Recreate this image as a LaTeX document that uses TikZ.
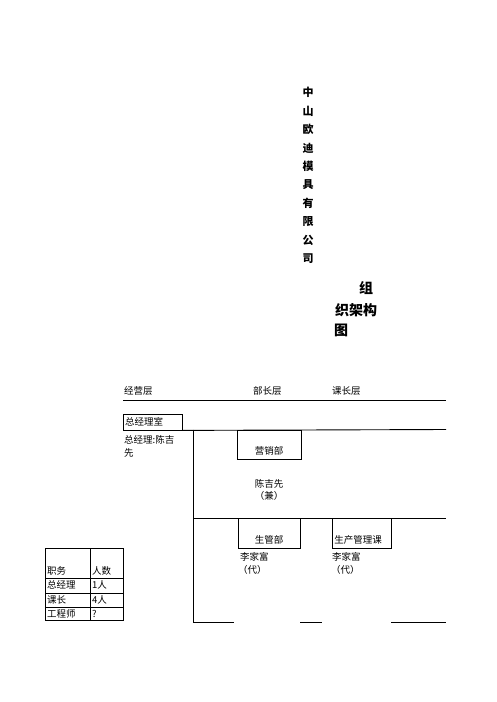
\documentclass[tikz,border=0pt]{standalone}
\usepackage{fontspec}
\setmainfont{Noto Sans CJK SC}
\begin{document}
\begin{tikzpicture}[x=1pt,y=-1pt,
  txt/.style={inner sep=0pt,font=\fontsize{9.5}{11}\selectfont},
  ltxt/.style={txt,anchor=west},
  ctxt/.style={txt,anchor=center},
  ttl/.style={inner sep=0pt,font=\fontsize{14}{16}\selectfont\bfseries},
  rule/.style={line width=0.9pt},
  boxc/.style={draw,line width=0.9pt,inner sep=0pt,anchor=north west}]
\useasboundingbox (0,0) rectangle (496,702);
% titles
\node[inner sep=0pt,align=center,font=\fontsize{11}{18.4}\selectfont\bfseries] (t1) at (308,175.5)
  {中\\山\\欧\\迪\\模\\具\\有\\限\\公\\司};
\node[ttl] (t2a) at (366,288) {组};
\node[ttl] (t2b) at (356,310) {织架构};
\node[ttl] (t2c) at (341,330) {图};
% header
\node[ltxt] (h1) at (124,391) {经营层};
\node[ltxt] (h2) at (253,391) {部长层};
\node[ltxt] (h3) at (332,391) {课长层};
\coordinate (hl) at (123,400);
\coordinate (hr) at (446,400);
\draw[rule] (hl) -- (hr);
% general manager
\node[boxc,minimum width=59pt,minimum height=15.5pt] (gm) at (123,414) {};
\node[ltxt] (gmt) at (125,421.5) {总经理室};
\node[ltxt] (gmn1) at (124,440) {总经理:陈吉};
\node[ltxt] (gmn2) at (124,453) {先};
\coordinate (l1r) at (446,429.5);
\coordinate (v1) at (193,429.5);
\coordinate (v2) at (193,518);
\coordinate (v3) at (193,622);
\draw[rule] (gm.south east) -- (l1r);
\draw[rule] (v1) -- (v3);
% sales
\node[boxc,minimum width=64pt,minimum height=29.5pt] (sales) at (237,429.5) {};
\node[ctxt] (salest) at (269,451) {营销部};
\node[ctxt] (salesn1) at (269,484) {陈吉先};
\node[ctxt] (salesn2) at (269,496) {（兼）};
% second level
\coordinate (l2r) at (446,518);
\draw[rule] (v2) -- (l2r);
\node[boxc,minimum width=62pt,minimum height=30pt] (pm) at (238,518) {};
\node[ctxt] (pmt) at (269,540) {生管部};
\node[boxc,minimum width=59pt,minimum height=30pt] (pc) at (332,518) {};
\node[ctxt] (pct) at (358,540) {生产管理课};
\node[ltxt] (pmn1) at (240,557) {李家富};
\node[ltxt] (pmn2) at (238,570) {（代）};
\node[ltxt] (pcn1) at (332,557) {李家富};
\node[ltxt] (pcn2) at (331,570) {（代）};
% bottom segments
\coordinate (b1) at (234,622);
\coordinate (b2) at (300,622);
\coordinate (b3) at (322,622);
\coordinate (b4) at (391,622);
\coordinate (b5) at (446,622);
\draw[rule] (v3) -- (b1);
\draw[rule] (b2) -- (b3);
\draw[rule] (b4) -- (b5);
% table
\coordinate (ta) at (45,548);
\coordinate (tb) at (123,620);
\draw[line width=0.8pt] (ta) rectangle (tb);
\draw[line width=0.8pt] (90,548) -- (90,620);
\draw[line width=0.8pt] (45,578) -- (123,578);
\draw[line width=0.8pt] (45,593) -- (123,593);
\draw[line width=0.8pt] (45,607) -- (123,607);
\node[ltxt] (c11) at (47,571) {职务};
\node[ltxt] (c12) at (92,571) {人数};
\node[ltxt] (c21) at (47,585) {总经理};
\node[ltxt] (c22) at (92,585) {1人};
\node[ltxt] (c31) at (47,600) {课长};
\node[ltxt] (c32) at (92,600) {4人};
\node[ltxt] (c41) at (47,614) {工程师};
\node[ltxt] (c42) at (92,614) {?};
\end{tikzpicture}
\end{document}
